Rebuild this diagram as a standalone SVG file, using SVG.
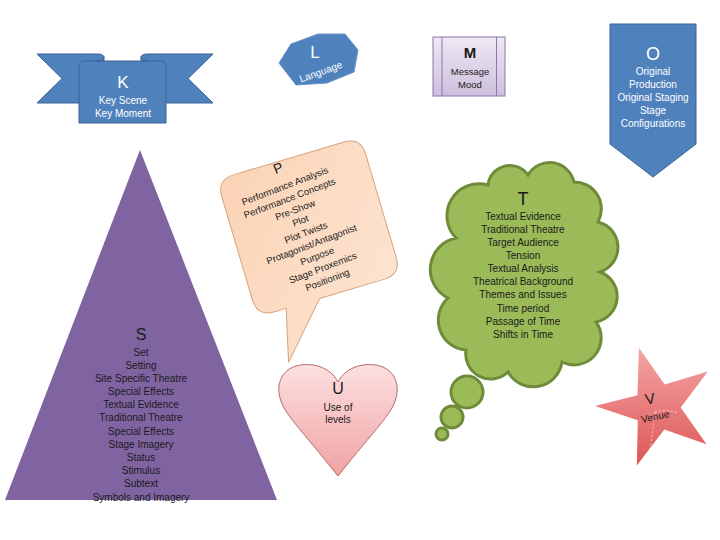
<svg xmlns="http://www.w3.org/2000/svg" width="720" height="540" viewBox="0 0 720 540">
<defs>
<linearGradient id="gM" x1="0" y1="0" x2="0" y2="1"><stop offset="0" stop-color="#EEE9F3"/><stop offset="1" stop-color="#CDBFDD"/></linearGradient>
<linearGradient id="gP" x1="0" y1="0" x2="1" y2="1"><stop offset="0" stop-color="#FBD3B5"/><stop offset="1" stop-color="#FDE6D5"/></linearGradient>
<linearGradient id="gU" x1="0" y1="0" x2="0" y2="1"><stop offset="0" stop-color="#FCE0E0"/><stop offset="1" stop-color="#F1A3A3"/></linearGradient>
<linearGradient id="gV" x1="0" y1="0" x2="0" y2="1"><stop offset="0" stop-color="#F4A5A5"/><stop offset="1" stop-color="#DE5656"/></linearGradient>
<style>
.t{font-family:"Liberation Sans",Arial,sans-serif;font-size:10px;text-anchor:middle}
.w{fill:#FFFFFF}
.k{fill:#1A1A1A}
.blue{fill:#4F81BD;stroke:#3A6396;stroke-width:1}
.big{font-size:17px}
</style>
</defs>
<rect width="720" height="540" fill="#FFFFFF"/>
<g id="connectors"/>

<g id="node-K">
<path class="blue" d="M37,54 L98,54 Q104,54 104,58 L104,103 L37,103 L62,78.5 Z"/>
<path class="blue" d="M213,54 L147,54 Q141,54 141,58 L141,103 L213,103 L188,78.5 Z"/>
<path class="blue" d="M79,123 L79,66 Q79,61 85,61 L160,61 Q166,61 166,66 L166,123 Z"/>
<path fill="none" stroke="#3A6396" d="M97,61 Q104,61 104,56 M148,61 Q141,61 141,56"/>
<text class="t w big" x="123" y="88">K</text>
<text class="t w" x="123" y="104">Key Scene</text>
<text class="t w" x="123" y="117">Key Moment</text>
</g>

<g id="node-L">
<polygon fill="#4F81BD" stroke="#6A93C6" stroke-width="1" points="279,63 291,44 318,34 345,34 358,50 354,72 327,83 296,85"/>
<text class="t w big" x="315" y="58">L</text>
<text class="t w" x="0" y="0" transform="translate(322,75) rotate(-20)">Language</text>
</g>

<g id="node-M">
<rect x="433" y="37" width="72" height="59" fill="url(#gM)" stroke="#8C74AE" stroke-width="1"/>
<line x1="442" y1="37" x2="442" y2="96" stroke="#8C74AE"/>
<line x1="496.5" y1="37" x2="496.5" y2="96" stroke="#8C74AE"/>
<text class="t k" x="470" y="58" style="font-size:15px;font-weight:bold">M</text>
<text class="t k" x="470" y="75" style="font-size:9.5px">Message</text>
<text class="t k" x="470" y="88" style="font-size:9.5px">Mood</text>
</g>

<g id="node-O">
<polygon class="blue" points="610,24 696,24 696,144 653,177 610,144"/>
<text class="t w" x="653" y="60" style="font-size:18px">O</text>
<text class="t w" x="653" y="75">Original</text>
<text class="t w" x="653" y="88">Production</text>
<text class="t w" x="653" y="101">Original Staging</text>
<text class="t w" x="653" y="114">Stage</text>
<text class="t w" x="653" y="127">Configurations</text>
</g>

<g id="node-S">
<polygon fill="#8064A2" points="140,150 277,500 5,500"/>
<text class="t k" x="141" y="340" style="font-size:16px">S</text>
<text class="t k" x="141" y="356">Set</text>
<text class="t k" x="141" y="369">Setting</text>
<text class="t k" x="141" y="382">Site Specific Theatre</text>
<text class="t k" x="141" y="395">Special Effects</text>
<text class="t k" x="141" y="408">Textual Evidence</text>
<text class="t k" x="141" y="421">Traditional Theatre</text>
<text class="t k" x="141" y="435">Special Effects</text>
<text class="t k" x="141" y="448">Stage Imagery</text>
<text class="t k" x="141" y="461">Status</text>
<text class="t k" x="141" y="474">Stimulus</text>
<text class="t k" x="141" y="487">Subtext</text>
<text class="t k" x="141" y="501">Symbols and Imagery</text>
</g>

<g id="node-P">
<path transform="translate(309,227) rotate(-16.5)" fill="url(#gP)" stroke="#D9A27C" stroke-width="1" d="M-57,-71.5 L57,-71.5 Q75,-71.5 75,-53.5 L75,53.5 Q75,71.5 57,71.5 L-10,71.5 L-58,124 L-45,71.5 L-57,71.5 Q-75,71.5 -75,53.5 L-75,-53.5 Q-75,-71.5 -57,-71.5 Z"/>
<g transform="translate(278,168) rotate(-21)">
<text class="t k" x="0" y="5" style="font-size:14px">P</text>
<text class="t k" x="0" y="22.5" style="font-size:9.5px">Performance Analysis</text>
<text class="t k" x="0" y="35.5" style="font-size:9.5px">Performance Concepts</text>
<text class="t k" x="1" y="48.5" style="font-size:9.5px">Pre-Show</text>
<text class="t k" x="2" y="60.5" style="font-size:9.5px">Plot</text>
<text class="t k" x="3" y="73.5" style="font-size:9.5px">Plot Twists</text>
<text class="t k" x="4" y="86.5" style="font-size:9.5px">Protagonist/Antagonist</text>
<text class="t k" x="5" y="99.5" style="font-size:9.5px">Purpose</text>
<text class="t k" x="6" y="112.5" style="font-size:9.5px">Stage  Proxemics</text>
<text class="t k" x="6" y="125.5" style="font-size:9.5px">Positioning</text>
</g>
</g>

<g id="node-T">
<path fill="#9BBB59" stroke="#6F8B3A" stroke-width="3" d="M488,185 A22,22 0 0 1 528,175 A25,25 0 0 1 574,182 A27,27 0 0 1 598,222 A26,26 0 0 1 600,272 A26,26 0 0 1 596,322 A27,27 0 0 1 562,362 A29,29 0 0 1 508,372 A25,25 0 0 1 466,350 A30,30 0 0 1 448,298 A32,32 0 0 1 456,238 A32,32 0 0 1 488,185 Z"/>
<circle cx="467" cy="392" r="16" fill="#9BBB59" stroke="#6F8B3A" stroke-width="3"/>
<circle cx="452" cy="417" r="11" fill="#9BBB59" stroke="#6F8B3A" stroke-width="3"/>
<circle cx="442" cy="434" r="6" fill="#9BBB59" stroke="#6F8B3A" stroke-width="3"/>
<text class="t k" x="523" y="205" style="font-size:18px">T</text>
<text class="t k" x="523" y="219.5">Textual Evidence</text>
<text class="t k" x="523" y="232.5">Traditional Theatre</text>
<text class="t k" x="523" y="245.5">Target Audience</text>
<text class="t k" x="523" y="259">Tension</text>
<text class="t k" x="523" y="271.5">Textual Analysis</text>
<text class="t k" x="523" y="285">Theatrical Background</text>
<text class="t k" x="523" y="298">Themes and Issues</text>
<text class="t k" x="523" y="311.5">Time period</text>
<text class="t k" x="523" y="325">Passage of Time</text>
<text class="t k" x="523" y="337.5">Shifts in Time</text>
</g>

<g id="node-U">
<path fill="url(#gU)" stroke="#B56A6A" stroke-width="1" d="M338,382 C330,366 310,362 296,366 C282,370 276,384 280,398 C284,414 300,428 338,476 C376,428 392,414 396,398 C400,384 394,370 380,366 C366,362 346,366 338,382 Z"/>
<text class="t k" x="338" y="394" style="font-size:16px">U</text>
<text class="t k" x="338" y="411">Use of</text>
<text class="t k" x="338" y="423">levels</text>
</g>

<g id="node-V">
<polygon fill="url(#gV)" points="638.9,347.7 664.7,384.6 707.8,371.4 680.7,407.4 706.5,444.3 664.3,429.6 636.8,465.6 637.8,420.3 595,405.9 637.5,395.3"/>
<path fill="none" stroke="#FFFFFF" stroke-opacity="0.8" stroke-width="0.8" stroke-dasharray="2,2" d="M655,412 Q665,409 678,413 M655,412 Q653,430 650,450"/>
<text class="t k" x="0" y="0" transform="translate(651,404) rotate(-10)" style="font-size:15px">V</text>
<text class="t k" x="0" y="0" transform="translate(656,420) rotate(-12)">Venue</text>
</g>
</svg>
